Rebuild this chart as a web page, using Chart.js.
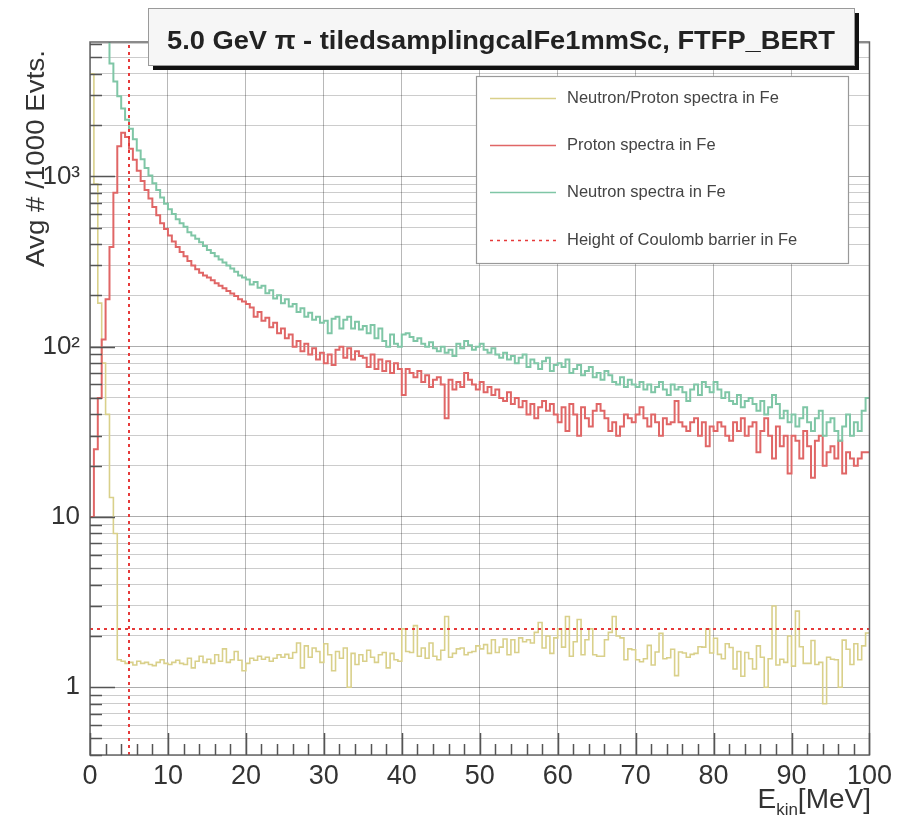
<!DOCTYPE html>
<html>
<head>
<meta charset="utf-8">
<title>Proton / neutron spectra in Fe</title>
<script src="https://cdn.jsdelivr.net/npm/chart.js@4.4.1/dist/chart.umd.min.js"></script>
<style>
  html, body { margin: 0; padding: 0; background: #fff; }
  #wrap { width: 897px; height: 818px; }
</style>
</head>
<body>
<div id="wrap"><canvas id="spectra" width="897" height="818"></canvas></div>
<script>
// histogram data, 0.5 MeV bins from 0 to 100 MeV
const binWidth = 0.5;
const eMin = 0, eMax = 100;

// Neutron/Proton ratio (yellow)
const neutronProtonRatio = [
  4000, 900, 180, 80, 40, 13, 8, 1.45, 1.42, 1.38,
  1.40, 1.35, 1.42, 1.38, 1.40, 1.36, 1.34, 1.40, 1.45, 1.38,
  1.36, 1.40, 1.44, 1.38, 1.36, 1.48, 1.30, 1.42, 1.52, 1.40,
  1.46, 1.38, 1.55, 1.42, 1.68, 1.40, 1.45, 1.62, 1.44, 1.25,
  1.38, 1.48, 1.44, 1.52, 1.46, 1.50, 1.42, 1.48, 1.55, 1.50,
  1.56, 1.48, 1.60, 1.82, 1.30, 1.75, 1.50, 1.70, 1.62, 1.40,
  1.80, 1.55, 1.25, 1.62, 1.48, 1.70, 1.00, 1.58, 1.36, 1.55,
  1.42, 1.65, 1.50, 1.40, 1.55, 1.60, 1.30, 1.58, 1.45, 1.42,
  2.20, 1.62, 1.60, 2.30, 1.52, 1.70, 1.48, 1.82, 1.52, 1.45,
  1.65, 2.60, 1.50, 1.58, 1.68, 1.70, 1.55, 1.60, 1.62, 1.75,
  1.68, 1.78, 1.58, 1.90, 1.60, 1.72, 1.92, 1.55, 1.90, 1.60,
  1.95, 1.85, 1.90, 1.82, 2.10, 2.40, 1.70, 2.00, 1.58, 1.95,
  2.20, 1.72, 2.60, 1.52, 1.85, 2.50, 1.55, 1.90, 2.20, 1.55,
  1.52, 1.52, 1.90, 2.10, 2.60, 2.00, 1.95, 1.45, 1.68, 1.66,
  1.45, 1.41, 1.47, 1.76, 1.35, 1.61, 2.07, 1.47, 1.49, 1.67,
  1.17, 1.61, 1.59, 1.50, 1.56, 1.58, 1.73, 1.72, 2.20, 1.59,
  1.94, 1.56, 1.47, 1.80, 1.71, 1.28, 1.62, 1.16, 1.60, 1.47,
  1.28, 1.75, 1.50, 1.00, 1.47, 3.00, 1.35, 1.46, 1.40, 2.00,
  1.33, 2.80, 1.73, 1.38, 1.38, 1.88, 1.36, 1.40, 0.80, 1.50,
  1.46, 1.45, 1.00, 1.89, 1.67, 1.36, 1.80, 1.45, 1.75, 2.08
];

// Proton spectrum (red)
const protonSpectrum = [
  10, 25, 50, 110, 190, 385, 800, 1500, 1800, 1700,
  1450, 1250, 1080, 940, 830, 740, 660, 590, 530, 490,
  450, 415, 385, 360, 340, 318, 300, 285, 272, 262,
  255, 245, 236, 228, 220, 212, 205, 198, 190, 184,
  178, 170, 150, 160, 142, 148, 130, 138, 120, 128,
  112, 118, 100, 108, 94, 104, 90, 98, 84, 92,
  80, 90, 78, 96, 100, 86, 98, 84, 94, 88,
  86, 76, 90, 74, 84, 72, 82, 70, 80, 74,
  52, 74, 70, 66, 72, 62, 68, 58, 64, 66,
  60, 38, 64, 56, 62, 58, 70, 64, 60, 56,
  62, 54, 58, 52, 56, 50, 48, 54, 46, 50,
  44, 48, 40, 46, 38, 44, 48, 42, 46, 40,
  36, 44, 32, 46, 40, 30, 44, 38, 34, 42,
  46, 42, 38, 32, 36, 30, 34, 40, 38, 36,
  40, 44, 38, 34, 40, 36, 30, 38, 35, 36,
  48, 36, 34, 32, 36, 38, 30, 36, 26, 34,
  32, 36, 34, 30, 28, 36, 32, 38, 30, 34,
  36, 24, 32, 38, 30, 22, 34, 26, 30, 18,
  30, 28, 22, 32, 26, 17, 28, 30, 20, 24,
  26, 22, 28, 18, 24, 22, 20, 22, 24, 24
];

// Neutron spectrum (green)
const neutronSpectrum = [
  20000, 16000, 12000, 8500, 6300, 4600, 3600, 2950, 2500, 2150,
  1900, 1650, 1420, 1260, 1120, 1010, 910, 830, 750, 690,
  640, 600, 560, 530, 505, 470, 450, 430, 410, 390,
  370, 355, 340, 325, 312, 300, 288, 275, 262, 255,
  248, 232, 240, 222, 228, 206, 214, 192, 200, 180,
  190, 172, 178, 160, 168, 150, 158, 144, 150, 138,
  142, 120, 146, 150, 128, 144, 150, 128, 140, 126,
  132, 120, 134, 112, 128, 108, 100, 118, 104, 100,
  118, 120, 114, 108, 112, 104, 100, 106, 98, 94,
  100, 92, 96, 88, 104, 98, 108, 102, 96, 100,
  104, 96, 92, 98, 90, 86, 92, 84, 88, 80,
  86, 90, 76, 84, 80, 74, 82, 86, 72, 78,
  80, 76, 84, 70, 74, 78, 68, 72, 76, 66,
  70, 64, 72, 68, 62, 60, 66, 58, 64, 60,
  58, 62, 56, 60, 54, 58, 62, 56, 52, 60,
  56, 58, 54, 48, 56, 60, 52, 62, 58, 54,
  62, 56, 50, 54, 48, 46, 52, 44, 48, 50,
  46, 42, 48, 40, 44, 52, 46, 38, 42, 36,
  40, 34, 38, 44, 36, 32, 38, 42, 30, 36,
  38, 32, 28, 34, 40, 30, 36, 32, 42, 50
];

// Coulomb barrier marker (energy and drawn height)
const coulombBarrierE = 5.0;
const coulombBarrierLevel = 2.2;

// axes
const yMin = 0.4, yMax = 6150;
const xTickValues = [0, 10, 20, 30, 40, 50, 60, 70, 80, 90, 100];
const yDecades = [0.1, 1, 10, 100, 1000];
const yMultipliers = [1, 2, 3, 4, 5, 6, 7, 8, 9];
const yTickLabels = { 1: '1', 10: '10', 100: '10\u00B2', 1000: '10\u00B3' };

const titleText = '5.0 GeV \u03C0 - tiledsamplingcalFe1mmSc, FTFP_BERT';
const yTitle = 'Avg # /1000 Evts.';

const FONT = '"Liberation Sans", Arial, Helvetica, sans-serif';

// low bin edges -> step points, plus the closing edge
function toSteps(values) {
  const pts = values.map((v, i) => ({ x: eMin + i * binWidth, y: v }));
  pts.push({ x: eMin + values.length * binWidth, y: values[values.length - 1] });
  return pts;
}

function isDecade(v) {
  const l = Math.log10(v);
  return Math.abs(l - Math.round(l)) < 1e-9;
}

const yTickValues = [];
yDecades.forEach(d => yMultipliers.forEach(m => {
  const v = +(d * m).toPrecision(6);
  if (v >= yMin && v <= yMax) yTickValues.push(v);
}));

const histStyle = { pointRadius: 0, stepped: true, fill: false, borderJoinStyle: 'miter' };

const datasets = [
  {
    label: 'Height of Coulomb barrier in Fe',
    data: [{ x: coulombBarrierE, y: yMin }, { x: coulombBarrierE, y: yMax }],
    borderColor: '#e63a3a', borderWidth: 2, borderDash: [3, 4], pointRadius: 0, inLegend: true
  },
  {
    label: 'Coulomb level',
    data: [{ x: eMin, y: coulombBarrierLevel }, { x: eMax, y: coulombBarrierLevel }],
    borderColor: '#e63a3a', borderWidth: 2, borderDash: [3, 4], pointRadius: 0, inLegend: false
  },
  Object.assign({ label: 'Neutron spectra in Fe', data: toSteps(neutronSpectrum),
    borderColor: '#7fc6a6', borderWidth: 2, inLegend: true }, histStyle),
  Object.assign({ label: 'Proton spectra in Fe', data: toSteps(protonSpectrum),
    borderColor: '#e06666', borderWidth: 2, inLegend: true }, histStyle),
  Object.assign({ label: 'Neutron/Proton spectra in Fe', data: toSteps(neutronProtonRatio),
    borderColor: '#d9d08a', borderWidth: 1.6, inLegend: true }, histStyle)
];

const legendOrder = ['Neutron/Proton spectra in Fe', 'Proton spectra in Fe',
  'Neutron spectra in Fe', 'Height of Coulomb barrier in Fe'];

// draw text stretched horizontally so it covers a given width
function fillStretched(ctx, text, x, y, font, width, align) {
  ctx.font = font;
  const w = ctx.measureText(text).width;
  const sx = width / w;
  ctx.save();
  ctx.translate(x, y);
  ctx.scale(sx, 1);
  ctx.textAlign = align;
  ctx.fillText(text, 0, 0);
  ctx.restore();
}

// ROOT-like decorations: frame, inner ticks, title box, legend, axis titles
const rootDecor = {
  id: 'rootDecor',
  afterDraw(chart) {
    const { ctx, chartArea: a, scales } = chart;
    const xs = scales.x, ys = scales.y;
    ctx.save();

    // frame
    ctx.strokeStyle = '#666';
    ctx.lineWidth = 1.5;
    ctx.strokeRect(a.left, a.top, a.right - a.left, a.bottom - a.top);

    // inner tick marks
    ctx.strokeStyle = '#555';
    ctx.lineWidth = 1.5;
    ctx.beginPath();
    ys.ticks.forEach(t => {
      const y = Math.round(ys.getPixelForValue(t.value)) + 0.5;
      const len = isDecade(t.value) ? 25 : 12;
      ctx.moveTo(a.left, y); ctx.lineTo(a.left + len, y);
    });
    for (let e = xs.min; e <= xs.max + 1e-6; e += 2) {
      const x = Math.round(xs.getPixelForValue(e)) + 0.5;
      const len = (Math.round(e) % 10 === 0) ? 22 : 11;
      ctx.moveTo(x, a.bottom); ctx.lineTo(x, a.bottom - len);
    }
    ctx.stroke();

    // title box with shadow
    const tb = { x: 148, y: 8, w: 706, h: 57 };
    ctx.fillStyle = '#111';
    ctx.fillRect(tb.x + 5, tb.y + 5, tb.w, tb.h);
    ctx.fillStyle = '#f6f6f6';
    ctx.fillRect(tb.x, tb.y, tb.w, tb.h);
    ctx.strokeStyle = '#9a9a9a';
    ctx.lineWidth = 1;
    ctx.strokeRect(tb.x + 0.5, tb.y + 0.5, tb.w, tb.h);
    ctx.fillStyle = '#222';
    ctx.textBaseline = 'alphabetic';
    fillStretched(ctx, titleText, tb.x + tb.w / 2, 49, 'bold 26px ' + FONT, 668, 'center');

    // legend
    const lb = { x: 476, y: 76, w: 372, h: 187 };
    ctx.fillStyle = '#ffffff';
    ctx.fillRect(lb.x, lb.y, lb.w, lb.h);
    ctx.strokeStyle = '#999';
    ctx.lineWidth = 1.2;
    ctx.strokeRect(lb.x + 0.5, lb.y + 0.5, lb.w, lb.h);
    const rowY = [98, 145, 192, 240];
    ctx.font = '16.5px ' + FONT;
    ctx.textAlign = 'left';
    ctx.textBaseline = 'middle';
    legendOrder.forEach((name, i) => {
      const ds = chart.data.datasets.find(d => d.label === name && d.inLegend);
      if (!ds) return;
      ctx.save();
      ctx.strokeStyle = ds.borderColor;
      ctx.lineWidth = Math.min(ds.borderWidth, 1.6);
      ctx.setLineDash(ds.borderDash || []);
      ctx.beginPath();
      ctx.moveTo(490, rowY[i] + 0.5);
      ctx.lineTo(556, rowY[i] + 0.5);
      ctx.stroke();
      ctx.restore();
      ctx.fillStyle = '#444';
      ctx.fillText(name, 567, rowY[i]);
    });

    // y title, rotated, aligned to the top
    ctx.save();
    ctx.translate(44, 50);
    ctx.rotate(-Math.PI / 2);
    ctx.fillStyle = '#333';
    ctx.textBaseline = 'alphabetic';
    fillStretched(ctx, yTitle, 0, 0, '25px ' + FONT, 217, 'right');
    ctx.restore();

    // x title E_kin[MeV], right aligned
    const big = '28px ' + FONT, small = '17px ' + FONT;
    ctx.font = big; const wE = ctx.measureText('E').width;
    const wU = ctx.measureText('[MeV]').width;
    ctx.font = small; const wK = ctx.measureText('kin').width;
    const x0 = 871 - (wE + wK + wU);
    ctx.textAlign = 'left';
    ctx.textBaseline = 'alphabetic';
    ctx.fillStyle = '#333';
    ctx.font = big; ctx.fillText('E', x0, 808);
    ctx.font = small; ctx.fillText('kin', x0 + wE, 815);
    ctx.font = big; ctx.fillText('[MeV]', x0 + wE + wK, 808);

    ctx.restore();
  }
};

new Chart(document.getElementById('spectra'), {
  type: 'line',
  data: { datasets },
  options: {
    responsive: false,
    animation: false,
    layout: { padding: { top: 42, right: 24, left: 0, bottom: 0 } },
    plugins: { legend: { display: false }, tooltip: { enabled: false }, title: { display: false } },
    scales: {
      x: {
        type: 'linear', min: eMin, max: eMax,
        afterBuildTicks: s => { s.ticks = xTickValues.map(v => ({ value: v })); },
        afterFit: s => { s.height = 63; },
        grid: { color: 'rgba(0,0,0,0.28)', lineWidth: 1, drawTicks: false },
        border: { display: false },
        ticks: { color: '#333', font: { family: FONT, size: 27 }, padding: 5, autoSkip: false, maxRotation: 0 }
      },
      y: {
        type: 'logarithmic', min: yMin, max: yMax,
        afterBuildTicks: s => { s.ticks = yTickValues.map(v => ({ value: v })); },
        afterFit: s => { s.width = 90; },
        grid: {
          color: c => (c.tick && isDecade(c.tick.value)) ? 'rgba(0,0,0,0.32)' : 'rgba(0,0,0,0.2)',
          lineWidth: 1, drawTicks: false
        },
        border: { display: false },
        ticks: {
          color: '#333', font: { family: FONT, size: 26 }, padding: 10, autoSkip: false,
          callback: v => yTickLabels[v] || ''
        }
      }
    }
  },
  plugins: [rootDecor]
});
</script>
</body>
</html>
